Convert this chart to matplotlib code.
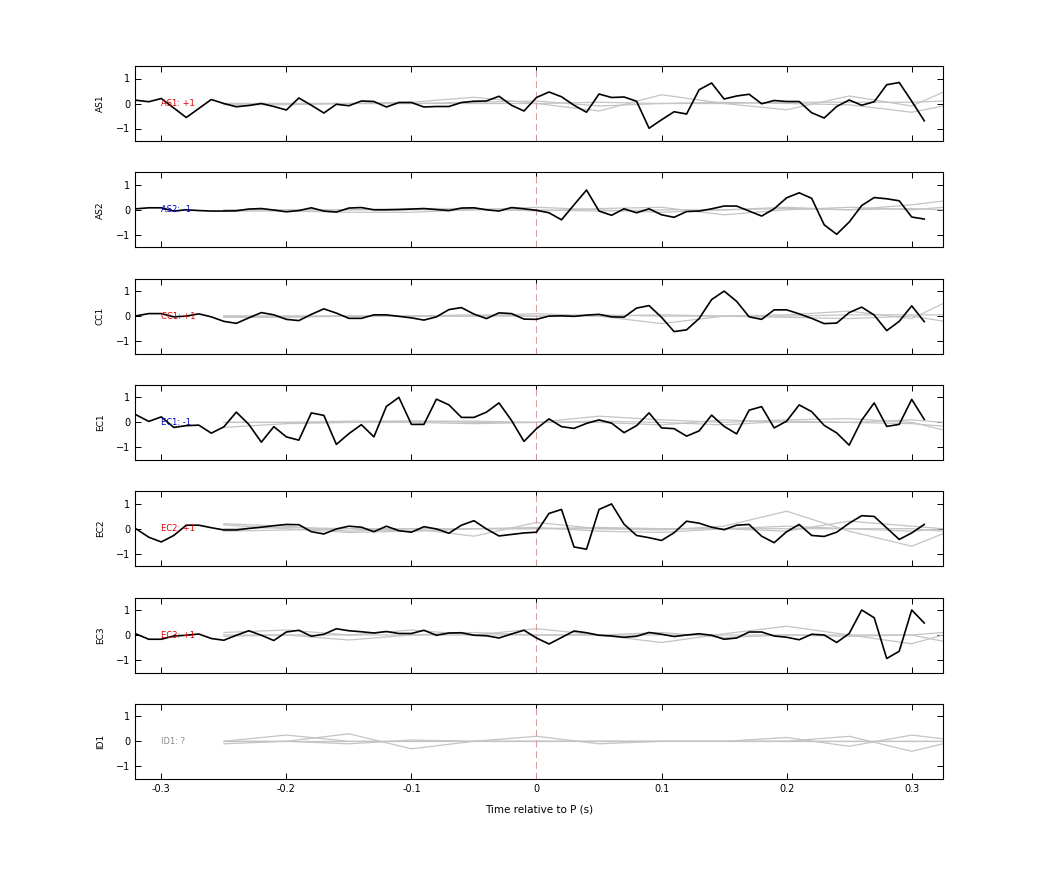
import numpy as np
import matplotlib
matplotlib.use("Agg")
import matplotlib.pyplot as plt

channels = ["AS1", "AS2", "CC1", "EC1", "EC2", "EC3", "ID1"]
labels = ["AS1: +1", "AS2: -1", "CC1: +1", "EC1: -1", "EC2: +1", "EC3: +1", "ID1: ?"]
label_colors = ["#dd0000", "#0000cc", "#dd0000", "#0000cc", "#dd0000", "#dd0000", "#888888"]

t_black = np.round(np.arange(-0.32, 0.315, 0.01), 2)

AS1 = [0.13,0.07,0.2,-0.18,-0.56,-0.2,0.16,0,-0.13,-0.08,0,-0.12,-0.26,0.22,-0.07,-0.38,-0.03,-0.09,0.1,0.08,
       -0.14,0.04,0.04,-0.14,-0.12,-0.12,0.04,0.09,0.1,0.29,-0.07,-0.3,0.24,0.46,0.27,-0.07,-0.35,0.38,0.24,0.26,
       0.09,-0.99,-0.65,-0.33,-0.42,0.55,0.82,0.18,0.3,0.37,-0.01,0.12,0.08,0.08,-0.37,-0.58,-0.12,0.14,-0.07,0.07,
       0.75,0.84,0.09,-0.69]
AS2 = [0.04,0.08,0.08,-0.05,0,-0.03,-0.05,-0.05,-0.04,0.03,0.05,-0.01,-0.08,-0.03,0.08,-0.05,-0.09,0.07,0.09,0,
       0,0.01,0.03,0.05,0.01,-0.03,0.07,0.08,0,-0.05,0.09,0.04,-0.02,-0.12,-0.4,0.2,0.79,-0.05,-0.22,0.04,
       -0.12,0.04,-0.2,-0.3,-0.07,-0.05,0.04,0.15,0.15,-0.05,-0.25,0.04,0.48,0.68,0.46,-0.6,-0.98,-0.49,0.17,0.49,
       0.44,0.36,-0.29,-0.37]
CC1 = [0.01,0.1,0.1,-0.03,0,0.09,-0.03,-0.21,-0.29,-0.07,0.14,0.05,-0.13,-0.18,0.07,0.29,0.12,-0.09,-0.09,0.05,
       0.05,-0.01,-0.07,-0.16,-0.03,0.26,0.34,0.08,-0.1,0.13,0.1,-0.12,-0.13,0,0.01,-0.01,0.04,0.07,-0.03,-0.04,
       0.32,0.42,-0.05,-0.62,-0.55,-0.1,0.66,1.0,0.59,-0.03,-0.13,0.25,0.25,0.09,-0.09,-0.3,-0.28,0.14,0.36,0.04,
       -0.58,-0.21,0.41,-0.22]
EC1 = [0.3,0.04,0.22,-0.2,-0.13,-0.11,-0.43,-0.18,0.41,-0.08,-0.79,-0.17,-0.58,-0.71,0.38,0.28,-0.88,-0.45,-0.09,-0.58,
       0.64,1.0,-0.08,-0.08,0.93,0.7,0.2,0.2,0.41,0.78,0.08,-0.76,-0.25,0.14,-0.17,-0.24,-0.04,0.1,-0.03,-0.41,
       -0.13,0.38,-0.22,-0.25,-0.55,-0.34,0.29,-0.16,-0.46,0.49,0.63,-0.22,0.05,0.7,0.43,-0.12,-0.42,-0.91,0.09,0.78,
       -0.16,-0.08,0.92,0.12]
EC2 = [-0.01,-0.34,-0.53,-0.27,0.14,0.14,0.04,-0.05,-0.05,0.01,0.06,0.12,0.17,0.16,-0.12,-0.21,-0.01,0.1,0.06,-0.12,
       0.1,-0.08,-0.14,0.08,-0.01,-0.18,0.14,0.32,-0.01,-0.29,-0.23,-0.17,-0.14,0.61,0.77,-0.73,-0.82,0.77,0.99,0.18,
       -0.27,-0.36,-0.47,-0.16,0.3,0.22,0.06,-0.04,0.14,0.17,-0.3,-0.56,-0.12,0.17,-0.27,-0.31,-0.14,0.22,0.52,0.49,
       0.03,-0.43,-0.17,0.17]
EC3 = [0.04,-0.17,-0.17,-0.04,-0.01,0.04,-0.14,-0.21,-0.01,0.17,-0.01,-0.22,0.12,0.19,-0.05,0.03,0.25,0.17,0.13,0.08,
       0.14,0.06,0.06,0.19,-0.01,0.08,0.09,-0.01,-0.03,-0.12,0.04,0.19,-0.12,-0.36,-0.1,0.16,0.09,-0.01,-0.04,-0.09,
       -0.05,0.1,0.03,-0.06,0,0.05,-0.01,-0.17,-0.12,0.12,0.12,-0.04,-0.09,-0.19,0.03,0,-0.3,0.06,1.0,0.69,
       -0.94,-0.65,1.0,0.48]
black_series = [AS1, AS2, CC1, EC1, EC2, EC3, None]

t_gray = [-0.25,-0.2,-0.15,-0.1,-0.05,0.0,0.05,0.1,0.15,0.2,0.25,0.3,0.325]
gray_series = [
    [[0.0,0.0,0.0,0.05,0.25,0.0,-0.3,0.35,0.0,-0.25,0.3,-0.1,0.45],
     [-0.05,-0.05,0.0,0.0,0.05,0.1,-0.1,0.0,0.05,0.0,-0.05,-0.35,-0.1],
     [0.0,0.0,0.0,0.0,0.0,0.0,0.05,0.0,0.0,0.05,0.05,0.05,0.1]],
    [[-0.05,-0.05,-0.1,-0.1,0.0,0.1,0.0,-0.1,0.0,0.1,0.0,0.2,0.35],
     [0.0,0.0,0.0,0.05,0.05,-0.05,0.05,0.1,-0.2,0.0,0.1,0.0,0.1],
     [0.0,0.0,0.0,0.0,0.0,0.0,-0.05,0.0,0.0,0.05,0.0,0.05,0.0]],
    [[0.0,0.0,0.0,0.0,0.0,0.1,0.0,-0.3,0.0,0.05,0.2,-0.1,0.5],
     [-0.05,-0.05,0.0,0.0,0.05,0.0,0.05,0.0,0.0,-0.05,-0.1,0.0,-0.2],
     [0.0,0.0,0.0,0.0,0.0,0.0,0.0,0.05,0.0,0.0,0.05,0.05,0.05]],
    [[-0.2,-0.05,0.0,0.05,0.05,0.0,0.25,0.1,0.0,0.1,0.15,0.0,-0.3],
     [0.0,0.0,0.0,0.0,-0.05,0.0,0.0,-0.1,0.1,0.0,0.0,0.1,0.0],
     [0.0,0.0,0.05,0.05,0.0,0.0,0.05,0.0,-0.1,0.05,0.0,-0.05,-0.15]],
    [[0.2,0.1,-0.1,0.0,-0.3,0.25,0.0,-0.05,0.1,0.7,-0.1,-0.7,-0.2],
     [-0.1,-0.05,0.0,-0.1,0.0,0.0,0.0,0.0,0.0,-0.1,0.3,0.1,0.0],
     [0.0,0.05,0.0,0.0,0.0,0.0,0.05,0.0,0.0,0.0,0.0,0.0,-0.1],
     [0.15,0.0,-0.15,-0.1,0.0,0.05,-0.1,-0.15,0.0,0.1,0.0,-0.1,0.0]],
    [[0.1,0.2,0.0,0.2,0.0,0.25,0.0,-0.3,0.05,0.35,0.0,-0.35,0.0],
     [-0.05,0.0,-0.2,0.0,0.1,0.0,0.0,0.1,-0.1,0.0,0.0,0.0,-0.25],
     [0.0,0.0,0.0,0.0,0.0,0.0,0.0,0.0,0.0,0.0,-0.05,0.0,0.1]],
    [[0.0,0.25,0.0,0.0,0.0,0.0,0.0,0.0,0.0,0.0,0.0,0.0,0.0],
     [0.0,0.0,0.3,-0.3,0.0,0.2,-0.1,0.0,0.0,0.15,-0.2,0.25,0.1],
     [-0.1,0.0,-0.1,0.05,0.0,0.0,0.0,0.0,0.0,0.0,0.2,-0.4,-0.1],
     [0.0,0.0,0.0,0.0,0.0,0.0,0.0,0.0,0.0,0.0,0.0,0.0,0.0]],
]

xticks = [-0.3, -0.2, -0.1, 0, 0.1, 0.2, 0.3]
xticklabels = ["-0.3", "-0.2", "-0.1", "0", "0.1", "0.2", "0.3"]
yticks = [-1, 0, 1]

fig = plt.figure(figsize=(10.42, 8.75), dpi=100)
W, H = 1042, 875
left, right = 135, 943
ph, gap, top0 = 75, 31.3, 66
for k in range(7):
    top = top0 + k * (ph + gap)
    ax = fig.add_axes([left / W, 1 - (top + ph) / H, (right - left) / W, ph / H])
    for g in gray_series[k]:
        ax.plot(t_gray, g, color="#c4c4c4", lw=0.9)
    ax.axvline(0, color="#d99a9a", lw=0.7, ls=(0, (7, 4)))
    if black_series[k] is not None:
        ax.plot(t_black, black_series[k], color="black", lw=1.2)
    ax.text(-0.3, 0, labels[k], color=label_colors[k], fontsize=6, va="center", ha="left")
    ax.set_xlim(-0.321, 0.325)
    ax.set_ylim(-1.5, 1.5)
    ax.set_yticks(yticks)
    ax.set_xticks(xticks)
    ax.tick_params(direction="in", labelsize=7, top=True, right=True, length=4, width=0.7)
    ax.set_ylabel(channels[k], fontsize=6.5, labelpad=8)
    if k < 6:
        ax.set_xticklabels([])
    else:
        ax.set_xticklabels(xticklabels)
        ax.set_xlabel("Time relative to P (s)", fontsize=7.5, labelpad=8)
    for s in ax.spines.values():
        s.set_linewidth(0.8)

fig.savefig("out.png", dpi=100)
